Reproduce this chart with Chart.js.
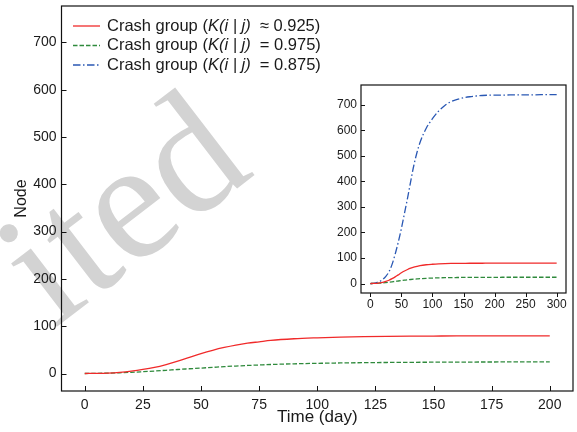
<!DOCTYPE html>
<html>
<head>
<meta charset="utf-8">
<script src="https://cdn.jsdelivr.net/npm/chart.js@4.4.0/dist/chart.umd.min.js"></script>
<style>
  body { margin: 0; background: #fff; }
  #wrap { position: relative; width: 577px; height: 432px; }
  #main { position: absolute; left: 0; top: 0; }
  #inset { position: absolute; left: 330px; top: 80px; }
</style>
</head>
<body>
<div id="wrap">
  <canvas id="main" width="577" height="432"></canvas>
  <canvas id="inset" width="243" height="232"></canvas>
</div>
<script>
// days since the start, shared by the three curves
const days = [0, 5, 10, 15, 20, 25, 30, 35, 40, 45, 50, 55, 60, 65, 70, 75, 80, 90, 100,
  110, 120, 130, 140, 150, 160, 170, 180, 190, 200, 225, 250, 275, 300];
// crash group, K(i|j) ~ 0.925
const crashMid = [0, 0.3, 1, 2.5, 5, 8.5, 13, 19, 26, 34, 42, 49, 55, 60, 64, 67, 70, 73.5, 75.5,
  77, 78, 78.6, 79, 79.2, 79.4, 79.5, 79.5, 79.6, 79.6, 79.6, 79.6, 79.6, 79.6];
// crash group, K(i|j) = 0.975
const crashHigh = [0, 0.3, 0.8, 1.5, 2.5, 3.8, 5.2, 6.8, 8.5, 10, 11.5, 13, 14.5, 15.8, 17, 18, 19, 20.5, 21.5,
  22.3, 22.9, 23.3, 23.6, 23.9, 24.1, 24.3, 24.4, 24.5, 24.5, 24.6, 24.6, 24.6, 24.6];
// crash group, K(i|j) = 0.875
const crashLow = [0, 1, 4, 8, 16, 28, 46, 75, 115, 162, 215, 275, 335, 400, 462, 512, 552, 608, 645,
  675, 697, 712, 721, 727, 731, 734, 736, 737, 737, 738, 738, 739, 739];

const mainXTicks = [0, 25, 50, 75, 100, 125, 150, 175, 200];
const mainYTicks = [0, 100, 200, 300, 400, 500, 600, 700];
const insetXTicks = [0, 50, 100, 150, 200, 250, 300];
const insetYTicks = [0, 100, 200, 300, 400, 500, 600, 700];

const legendPrefix = 'Crash group (';
const legendVar = 'K(i | j)';
const legendSuffix = ['  \u2248 0.925)', '  = 0.975)', '  = 0.875)'];

const RED = '#f02a2a', GREEN = '#2f8a3c', BLUE = '#2a58b4';
const styles = [
  { color: RED, dash: [] },
  { color: GREEN, dash: [4.5, 2] },
  { color: BLUE, dash: [7.5, 2.5, 1.5, 2.5] }
];

Chart.defaults.font.family = '"Liberation Sans", Arial, sans-serif';
Chart.defaults.color = '#1a1a1a';

const pts = (ys, maxDay) => days.map((d, i) => ({ x: d, y: ys[i] })).filter(p => p.x <= maxDay);

function line(ys, st, maxDay) {
  return {
    data: pts(ys, maxDay),
    borderColor: st.color,
    borderDash: st.dash,
    borderWidth: 1.3,
    pointRadius: 0,
    cubicInterpolationMode: 'monotone',
    fill: false
  };
}

// keep the plot box fixed: no extra room for overhanging end labels
function noPad(s) {
  s.paddingTop = 0; s.paddingBottom = 0; s.paddingLeft = 0; s.paddingRight = 0;
}

// box round the plot plus short tick marks
function frameTicks(xIn, yIn) {
  return {
    id: 'frameTicks',
    afterDatasetsDraw(chart) {
      const { ctx, chartArea: a, scales } = chart;
      ctx.save();
      ctx.strokeStyle = '#111';
      ctx.lineWidth = 1.2;
      ctx.strokeRect(a.left, a.top, a.right - a.left, a.bottom - a.top);
      ctx.lineWidth = 1;
      ctx.beginPath();
      scales.x.ticks.forEach(t => {
        const px = Math.round(scales.x.getPixelForValue(t.value)) + 0.5;
        ctx.moveTo(px, a.bottom);
        ctx.lineTo(px, a.bottom + xIn);
      });
      scales.y.ticks.forEach(t => {
        const py = Math.round(scales.y.getPixelForValue(t.value)) + 0.5;
        ctx.moveTo(a.left, py);
        ctx.lineTo(a.left + yIn, py);
      });
      ctx.stroke();
      ctx.restore();
    }
  };
}

const background = {
  id: 'background',
  beforeDraw(chart) {
    const ctx = chart.ctx;
    ctx.save();
    ctx.fillStyle = '#fff';
    ctx.fillRect(0, 0, chart.width, chart.height);
    // grey stamp across the left half
    ctx.translate(54, 329);
    ctx.rotate(-37.5 * Math.PI / 180);
    ctx.fillStyle = '#d3d3d3';
    ctx.font = '170px "Liberation Serif", "DejaVu Serif", serif';
    ctx.textBaseline = 'alphabetic';
    ctx.fillText('ited', 0, 0);
    ctx.restore();
  }
};

const legendBox = {
  id: 'legendBox',
  afterDraw(chart) {
    const ctx = chart.ctx;
    const x0 = 73, x1 = 100, tx = 107;
    const rows = [26, 45.5, 65];
    const normal = '16.5px "Liberation Sans", Arial, sans-serif';
    const italic = 'italic 16.5px "Liberation Sans", Arial, sans-serif';
    ctx.save();
    rows.forEach((y, i) => {
      ctx.strokeStyle = styles[i].color;
      ctx.setLineDash(styles[i].dash);
      ctx.lineWidth = 1.3;
      ctx.beginPath();
      ctx.moveTo(x0, y);
      ctx.lineTo(x1, y);
      ctx.stroke();
      ctx.setLineDash([]);
      ctx.fillStyle = '#1a1a1a';
      ctx.textBaseline = 'middle';
      let x = tx;
      ctx.font = normal;
      ctx.fillText(legendPrefix, x, y);
      x += ctx.measureText(legendPrefix).width;
      ctx.font = italic;
      ctx.fillText(legendVar, x, y);
      x += ctx.measureText(legendVar).width;
      ctx.font = normal;
      ctx.fillText(legendSuffix[i], x, y);
    });
    ctx.restore();
  }
};

new Chart(document.getElementById('main'), {
  type: 'line',
  data: {
    datasets: [line(crashMid, styles[0], 200), line(crashHigh, styles[1], 200)]
  },
  options: {
    responsive: false,
    animation: false,
    devicePixelRatio: 1,
    layout: { padding: { top: 6, right: 4, left: 0, bottom: 0 } },
    plugins: { legend: { display: false }, tooltip: { enabled: false } },
    scales: {
      x: {
        type: 'linear', min: -10, max: 210,
        afterBuildTicks: s => { s.ticks = mainXTicks.map(v => ({ value: v })); },
        afterFit: s => { s.height = 41; noPad(s); },
        grid: { display: false, drawTicks: false },
        border: { display: false },
        ticks: { font: { size: 14 }, padding: 6, maxRotation: 0 },
        title: { display: true, text: 'Time (day)', font: { size: 17 }, padding: { top: 0, bottom: 4 } }
      },
      y: {
        type: 'linear', min: -37, max: 777,
        afterBuildTicks: s => { s.ticks = mainYTicks.map(v => ({ value: v })); },
        afterFit: s => { s.width = 61.5; noPad(s); },
        grid: { display: false, drawTicks: false },
        border: { display: false },
        ticks: { font: { size: 14 }, padding: 5 },
        title: { display: true, text: 'Node', font: { size: 16 }, padding: { top: 12, bottom: 0 } }
      }
    }
  },
  plugins: [background, frameTicks(-5, 5), legendBox]
});

new Chart(document.getElementById('inset'), {
  type: 'line',
  data: {
    datasets: [line(crashMid, styles[0], 300), line(crashHigh, styles[1], 300), line(crashLow, styles[2], 300)]
  },
  options: {
    responsive: false,
    animation: false,
    devicePixelRatio: 1,
    layout: { padding: { top: 5, right: 7, left: 0, bottom: 0 } },
    plugins: { legend: { display: false }, tooltip: { enabled: false } },
    scales: {
      x: {
        type: 'linear', min: -15, max: 315,
        afterBuildTicks: s => { s.ticks = insetXTicks.map(v => ({ value: v })); },
        afterFit: s => { s.height = 19; noPad(s); },
        grid: { display: false, drawTicks: false },
        border: { display: false },
        ticks: { font: { size: 12 }, padding: 4, maxRotation: 0 }
      },
      y: {
        type: 'linear', min: -37, max: 777,
        afterBuildTicks: s => { s.ticks = insetYTicks.map(v => ({ value: v })); },
        afterFit: s => { s.width = 31; noPad(s); },
        grid: { display: false, drawTicks: false },
        border: { display: false },
        ticks: { font: { size: 12 }, padding: 4 }
      }
    }
  },
  plugins: [frameTicks(4, 4)]
});
</script>
</body>
</html>
